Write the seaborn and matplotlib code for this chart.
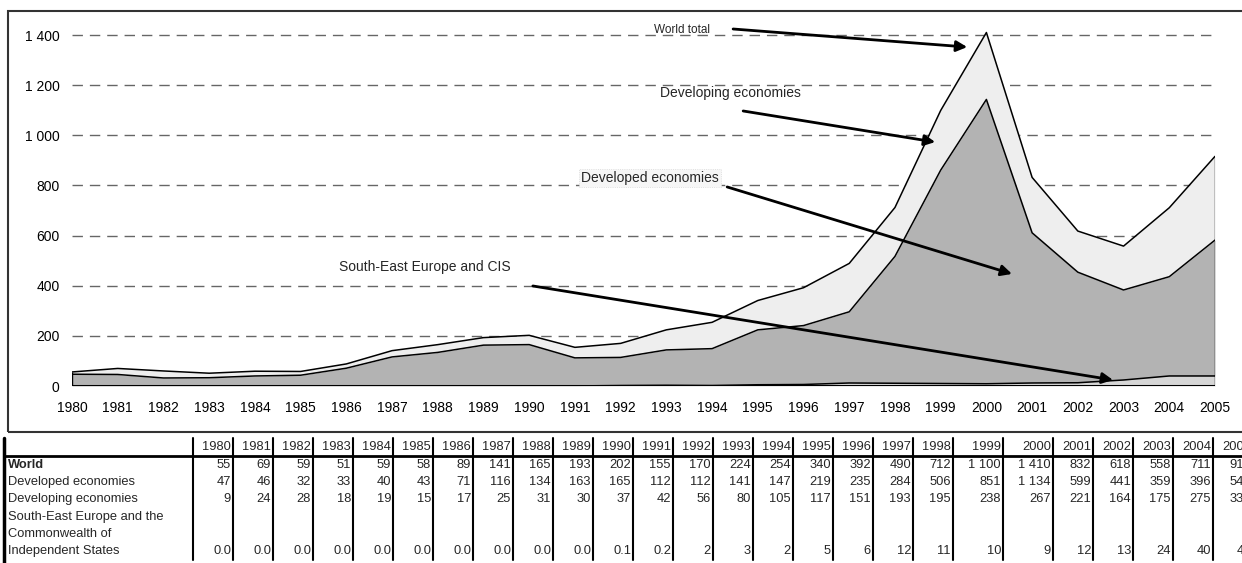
import numpy as np
import pandas as pd
import seaborn as sns
import matplotlib.pyplot as plt
from matplotlib.lines import Line2D
from matplotlib.patches import Rectangle

# Data (billions of dollars)
years = list(range(1980, 2006))
world = [55, 69, 59, 51, 59, 58, 89, 141, 165, 193, 202, 155, 170, 224, 254,
         340, 392, 490, 712, 1100, 1410, 832, 618, 558, 711, 916]
developed = [47, 46, 32, 33, 40, 43, 71, 116, 134, 163, 165, 112, 112, 141, 147,
             219, 235, 284, 506, 851, 1134, 599, 441, 359, 396, 542]
developing = [9, 24, 28, 18, 19, 15, 17, 25, 31, 30, 37, 42, 56, 80, 105,
              117, 151, 193, 195, 238, 267, 221, 164, 175, 275, 334]
see_cis = [0.0, 0.0, 0.0, 0.0, 0.0, 0.0, 0.0, 0.0, 0.0, 0.0, 0.1, 0.2, 2, 3, 2,
           5, 6, 12, 11, 10, 9, 12, 13, 24, 40, 40]
y_ticks = [0, 200, 400, 600, 800, 1000, 1200, 1400]

df = pd.DataFrame({"year": years, "see": see_cis, "developed": developed,
                   "developing": developing})
df["s1"] = df["see"]
df["s2"] = df["s1"] + df["developed"]
df["s3"] = df["s2"] + df["developing"]

W, H = 1242, 563


def fx(px):
    return px / W


def fy(py):
    return 1 - py / H


sns.set_theme(style="white")
plt.rcParams['font.family'] = ['Liberation Sans', 'DejaVu Sans']

fig = plt.figure(figsize=(W / 100, H / 100), dpi=100)
ax = fig.add_axes([fx(72), fy(386), fx(1215) - fx(72), fy(30) - fy(386)])
ax.set_xlim(1980, 2005)
ax.set_ylim(0, 1420)

# stacked areas
ax.fill_between(df["year"], 0, df["s1"], color="#d6d6d6", lw=0, zorder=2)
ax.fill_between(df["year"], df["s1"], df["s2"], color="#b3b3b3", lw=0, zorder=2)
ax.fill_between(df["year"], df["s2"], df["s3"], color="#eeeeee", lw=0, zorder=2)
for col in ["s1", "s2", "s3"]:
    sns.lineplot(data=df, x="year", y=col, color="black", lw=1.1, ax=ax, zorder=3)
ax.vlines([1980, 2005], 0, [df["s3"].iloc[0], df["s3"].iloc[-1]], color="black", lw=1, zorder=3)
ax.axhline(0, color="black", lw=2.2, zorder=4)

for v in y_ticks[1:]:
    ax.axhline(v, color="#666666", lw=1, ls=(0, (7.5, 5)), zorder=1)

ax.set_yticks(y_ticks)
ax.set_yticklabels([f"{v:,}".replace(",", " ") for v in y_ticks])
ax.set_xticks(years)
ax.set_xticklabels([str(y) for y in years])
ax.tick_params(axis="both", length=0, labelsize=10, colors="black")
ax.tick_params(axis="y", pad=9)
ax.tick_params(axis="x", pad=11)
ax.set_xlabel("")
ax.set_ylabel("")
for s in ax.spines.values():
    s.set_visible(False)
ax.set_facecolor("none")

# annotations
arrow = dict(arrowstyle="-|>", color="black", lw=2, mutation_scale=16,
             shrinkA=0, shrinkB=0)
ax.text(1992.72, 1420, "World total", fontsize=8.5, ha="left", va="center", zorder=5)
ax.annotate("", xy=(1999.58, 1352), xytext=(1994.46, 1424), arrowprops=arrow, zorder=6)
ax.text(1994.41, 1169, "Developing economies", fontsize=10, ha="center", va="center", zorder=5)
ax.annotate("", xy=(1998.88, 973), xytext=(1994.68, 1097), arrowprops=arrow, zorder=6)
ax.text(1992.64, 830, "Developed economies", fontsize=10, ha="center", va="center", zorder=5,
        bbox=dict(facecolor="#f6f6f6", edgecolor="#d8d8d8", lw=0.6, ls=":", pad=1.5))
ax.annotate("", xy=(2000.56, 447), xytext=(1994.33, 794), arrowprops=arrow, zorder=6)
ax.text(1987.72, 475, "South-East Europe and CIS", fontsize=10, ha="center", va="center", zorder=5)
ax.annotate("", xy=(2002.77, 24), xytext=(1990.08, 399), arrowprops=arrow, zorder=6)

# chart frame
fig.add_artist(Rectangle((fx(8), fy(432)), fx(1260) - fx(8), fy(11) - fy(432),
                         transform=fig.transFigure, fill=False, ec="#333333", lw=1.5))

# data table
col_w = [50 if y in (1999, 2000) else 40 for y in years]
edges = [193]
for w in col_w:
    edges.append(edges[-1] + w)
row_y = [447, 465, 482, 499, 517, 534, 551]
tkw = dict(transform=fig.transFigure, fontsize=9.3, va="center")


def fmt(v):
    return f"{v:,}".replace(",", " ")


def fmt_see(v):
    return f"{v:.1f}" if v < 1 else f"{int(v)}"


row_labels = ["World", "Developed economies", "Developing economies",
              "South-East Europe and the", "Commonwealth of", "Independent States"]
for i, lab in enumerate(row_labels):
    fig.text(fx(8), fy(row_y[i + 1]), lab, ha="left",
             fontweight="bold" if i == 0 else "normal", **tkw)

for j, y in enumerate(years):
    xr = fx(edges[j + 1] - 2)
    fig.text(xr, fy(row_y[0]), str(y), ha="right", **tkw)
    fig.text(xr, fy(row_y[1]), fmt(world[j]), ha="right", **tkw)
    fig.text(xr, fy(row_y[2]), fmt(developed[j]), ha="right", **tkw)
    fig.text(xr, fy(row_y[3]), fmt(developing[j]), ha="right", **tkw)
    fig.text(xr, fy(row_y[6]), fmt_see(see_cis[j]), ha="right", **tkw)

for e in edges:
    fig.add_artist(Line2D([fx(e), fx(e)], [fy(438), fy(560)], transform=fig.transFigure,
                          color="black", lw=1.5))
fig.add_artist(Line2D([fx(4), fx(4)], [fy(438), fy(563)], transform=fig.transFigure,
                      color="black", lw=2.5))
fig.add_artist(Line2D([fx(4), fx(1260)], [fy(456), fy(456)], transform=fig.transFigure,
                      color="black", lw=2))

fig.savefig("out.png", dpi=100)
